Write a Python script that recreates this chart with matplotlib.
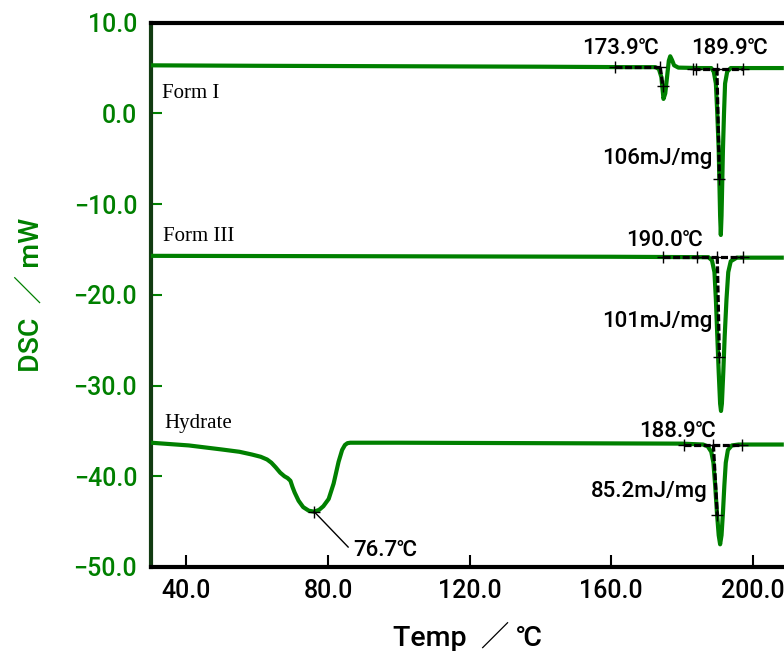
import matplotlib
matplotlib.use("Agg")
import matplotlib.pyplot as plt

# ---------------- data ----------------
form1_x = [30, 60, 100, 140, 165, 172.5, 173.5, 174.2, 174.8, 175.3, 175.8, 176.3, 176.7,
           177.2, 177.8, 179.0, 185, 188.3, 189.0, 189.6, 190.0, 190.4, 190.8, 191.0,
           191.2, 191.6, 191.9, 192.2, 192.8, 193.8, 200, 208.8]
form1_y = [5.3, 5.25, 5.2, 5.15, 5.1, 5.1, 4.9, 4.0, 1.6, 2.2, 4.0, 5.8, 6.3,
           5.9, 5.3, 5.05, 5.0, 5.0, 4.6, 3.3, 0.0, -4.0, -11.3, -13.4,
           -11.3, -4.0, 0.0, 3.3, 4.6, 5.0, 5.0, 5.0]

form3_x = [30, 100, 160, 187.5, 188.5, 189.2, 189.6, 190.0, 190.4, 190.8, 191.05, 191.3,
           191.7, 192.1, 192.6, 193.1, 193.8, 195.5, 200, 208.8]
form3_y = [-15.7, -15.75, -15.8, -15.85, -16.2, -17.5, -20.5, -24.5, -28.5, -32.0, -32.8, -32.0,
           -28.5, -24.5, -20.5, -17.5, -16.3, -15.9, -15.9, -15.9]

hyd_x = [30, 40.7, 50.1, 55.0, 58.5, 61.0, 62.8, 64.0, 65.2, 66.5, 67.7, 68.6, 69.4, 70.0,
         70.6, 71.7, 73.0, 74.6, 76.1, 77.5, 78.7, 80.2, 81.6, 83.0, 84.0, 84.8, 85.5, 86.3,
         100, 140, 180, 186, 187.3, 188.3, 188.9, 189.4, 189.9, 190.4, 190.8, 191.2, 191.6,
         192.0, 192.4, 193.0, 194.1, 196, 208.8]
hyd_y = [-36.3, -36.6, -37.05, -37.3, -37.6, -37.85, -38.15, -38.5, -39.0, -39.6, -40.0, -40.2,
         -40.5, -41.2, -41.8, -42.7, -43.4, -43.8, -43.9, -43.7, -43.3, -42.5, -40.8, -38.4,
         -37.1, -36.55, -36.35, -36.3, -36.3, -36.35, -36.4, -36.5, -36.7, -37.3, -38.5, -41.0,
         -44.0, -46.5, -47.5, -46.5, -44.0, -41.0, -38.5, -37.1, -36.6, -36.5, -36.5]

sample_names = ["Form I", "Form III", "Hydrate"]
sample_label_xy = [(33.0, 2.2), (33.3, -13.6), (33.7, -34.2)]

# onset analysis: baseline segment (x0, x1, y), tangent end point, tick marks
onset_base = [(161.1, 173.9, 5.1), (183.1, 197.2, 4.95), (174.8, 197.2, -15.8), (180.7, 196.9, -36.5)]
onset_start = [(173.9, 5.1), (189.9, 4.95), (190.0, -15.8), (188.9, -36.5)]
onset_end = [(174.6, 3.0), (190.6, -7.2), (190.6, -26.8), (190.0, -44.3)]
onset_ticks = [[161.1, 173.9], [183.1, 184.0, 189.9, 197.2], [174.8, 184.2, 190.0, 197.2], [180.7, 188.9, 196.9]]

ann_texts = ["173.9℃", "189.9℃", "106mJ/mg", "190.0℃", "101mJ/mg", "188.9℃", "85.2mJ/mg"]
ann_xy = [(162.6, 7.18), (193.3, 7.18), (173.1, -4.92), (175.0, -13.96), (173.1, -22.97),
          (178.8, -35.1), (170.7, -41.7)]

peak_text = "76.7℃"
peak_point = (76.1, -43.9)
peak_leader_end = (85.7, -47.8)
peak_text_xy = (87.1, -48.2)

x_ticks = [40, 80, 120, 160, 200]
y_ticks = [10, 0, -10, -20, -30, -40, -50]

# ---------------- figure ----------------
GREEN = "#008000"
SANS = ["Roboto", "Liberation Sans", "Noto Sans CJK JP", "DejaVu Sans"]

fig = plt.figure(figsize=(7.84, 6.51), dpi=100)
ax = fig.add_axes([151 / 784, 1 - 567 / 651, 1 - 151 / 784, 544.3 / 651])
ax.set_xlim(30, 208.85)
ax.set_ylim(-50, 10)

for xs, ys in [(form1_x, form1_y), (form3_x, form3_y), (hyd_x, hyd_y)]:
    ax.plot(xs, ys, color=GREEN, lw=3.0, solid_joinstyle="round", solid_capstyle="butt", zorder=3)

# onset constructions
for (x0, x1, yb), (sx, sy), (ex, ey), ticks in zip(onset_base, onset_start, onset_end, onset_ticks):
    ax.plot([x0, x1], [yb, yb], color="black", lw=2.3, ls=(0, (2.2, 0.8)), zorder=4)
    ax.plot([sx, ex], [sy, ey], color="black", lw=2.3, ls=(0, (2.2, 0.8)), zorder=4)
    ax.plot(ticks, [yb] * len(ticks), ls="none", marker="+", ms=9, mew=1.0, color="black", zorder=5)
    ax.plot([ex], [ey], ls="none", marker="+", ms=9, mew=1.0, color="black", zorder=5)

for t, (tx, ty) in zip(ann_texts, ann_xy):
    ax.text(tx, ty, t, ha="center", va="center", fontsize=16, family=SANS, fontweight="medium",
            color="black", zorder=6)

ax.plot([peak_point[0], peak_leader_end[0]], [peak_point[1], peak_leader_end[1]], color="black", lw=1.0, zorder=5)
ax.plot([peak_point[0]], [peak_point[1]], ls="none", marker="+", ms=9, mew=1.0, color="black", zorder=5)
ax.text(peak_text_xy[0], peak_text_xy[1], peak_text, ha="left", va="center", fontsize=16, family=SANS,
        fontweight="medium", color="black")

for name, (lx, ly) in zip(sample_names, sample_label_xy):
    ax.text(lx, ly, name, ha="left", va="center", fontsize=15, family="Liberation Serif", color="black")

# axes styling
ax.spines["right"].set_visible(False)
ax.spines["top"].set_linewidth(3)
ax.spines["bottom"].set_linewidth(3)
ax.spines["left"].set_linewidth(3)
ax.spines["left"].set_color("#123c12")
ax.spines["top"].set_color("black")
ax.spines["bottom"].set_color("black")

ax.set_xticks(x_ticks)
ax.set_xticklabels([f"{v:.1f}" for v in x_ticks])
ax.set_yticks(y_ticks)
ax.set_yticklabels([f"{v:.1f}".replace("-", "\u2212") for v in y_ticks])
ax.tick_params(axis="x", direction="in", length=9, width=1.5, colors="black", pad=9, labelsize=18)
ax.tick_params(axis="y", direction="in", length=8, width=1.5, color=GREEN, labelcolor=GREEN, pad=10, labelsize=18)
for lab in ax.get_xticklabels() + ax.get_yticklabels():
    lab.set_family(SANS)
    lab.set_fontweight("medium")

ax.set_xlabel("Temp  ／ ℃", fontsize=20.5, family=SANS, fontweight="medium", color="black", labelpad=13)
ax.set_ylabel("DSC  ／ mW", fontsize=20.5, family=SANS, fontweight="medium", color=GREEN, labelpad=21)

fig.savefig("out.png", dpi=100)
